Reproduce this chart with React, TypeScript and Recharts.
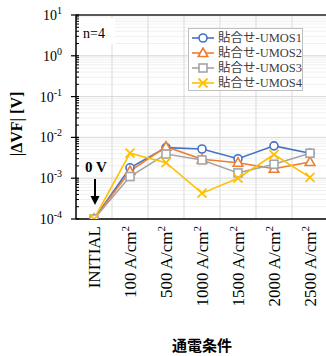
import { LineChart, Line, XAxis, YAxis, CartesianGrid, ReferenceLine, Legend, Customized } from 'recharts'

const categories = ['INITIAL', '100', '500', '1000', '1500', '2000', '2500']
const umos1 = [1e-4, 1.8e-3, 5.6e-3, 5.2e-3, 3.0e-3, 6.2e-3, 4.1e-3]
const umos2 = [1e-4, 1.5e-3, 5.9e-3, 2.9e-3, 2.4e-3, 1.7e-3, 2.5e-3]
const umos3 = [1e-4, 1.1e-3, 3.9e-3, 2.8e-3, 1.35e-3, 2.2e-3, 4.1e-3]
const umos4 = [1e-4, 4.1e-3, 2.4e-3, 4.3e-4, 1.0e-3, 3.8e-3, 1.05e-3]

const majorTicks = [1e-4, 1e-3, 1e-2, 1e-1, 1, 10]
const exponents = ['-4', '-3', '-2', '-1', '0', '1']
const minorSteps = [2, 3, 4, 5, 6, 7, 8, 9]
const minorTicks = majorTicks.slice(0, -1).flatMap(m => minorSteps.map(s => m * s))
const allTicks = [...majorTicks, ...minorTicks].sort((a, b) => a - b)

const seriesNames = ['貼合せ-UMOS1', '貼合せ-UMOS2', '貼合せ-UMOS3', '貼合せ-UMOS4']
const seriesKeys = ['u1', 'u2', 'u3', 'u4']
const seriesColors = ['#4472C4', '#ED7D31', '#A5A5A5', '#FFC000']
const seriesShapes = ['circle', 'triangle', 'square', 'cross']

const data = categories.map((c, i) => ({
  cat: c,
  u1: umos1[i],
  u2: umos2[i],
  u3: umos3[i],
  u4: umos4[i],
}))

const SERIF = '"Liberation Serif", "Times New Roman", serif'
const CJK = '"Noto Sans CJK JP", "Noto Sans", sans-serif'
const MIXED = '"Liberation Serif", "Noto Sans CJK JP", serif'

function Marker({ shape, cx, cy, color }: { shape: string; cx: number; cy: number; color: string }) {
  if (shape === 'circle') return <circle cx={cx} cy={cy} r={4} fill="#fff" stroke={color} strokeWidth={1.6} />
  if (shape === 'triangle')
    return <path d={`M${cx},${cy - 5} L${cx + 4.8},${cy + 3.5} L${cx - 4.8},${cy + 3.5} Z`} fill="#fff" stroke={color} strokeWidth={1.6} />
  if (shape === 'square') return <rect x={cx - 4} y={cy - 4} width={8} height={8} fill="#fff" stroke={color} strokeWidth={1.6} />
  return (
    <g stroke={color} strokeWidth={1.8}>
      <line x1={cx - 4.5} y1={cy - 4.5} x2={cx + 4.5} y2={cy + 4.5} />
      <line x1={cx - 4.5} y1={cy + 4.5} x2={cx + 4.5} y2={cy - 4.5} />
    </g>
  )
}

const YTick = ({ x, y, payload }: any) => {
  const idx = majorTicks.findIndex(t => Math.abs(Math.log10(t) - Math.log10(payload.value)) < 1e-6)
  if (idx < 0) return <line x1={x} x2={x + 3} y1={y} y2={y} stroke="#000" strokeWidth={1} />
  return (
    <g>
      <line x1={x - 5} x2={x + 3} y1={y} y2={y} stroke="#000" strokeWidth={1.2} />
      <text x={x - 14} y={y + 5} textAnchor="end" fontFamily={SERIF} fontSize={14} fill="#000">
        10
        <tspan dy={-6} fontSize={10}>{exponents[idx]}</tspan>
      </text>
    </g>
  )
}

const XTick = ({ x, y, payload }: any) => {
  const v = payload.value as string
  return (
    <g transform={`translate(${x},${y}) rotate(-90)`}>
      <text x={-7} y={6} textAnchor="end" fontFamily={SERIF} fontSize={17} fill="#000">
        {v === 'INITIAL' ? (
          'INITIAL'
        ) : (
          <>
            {`${v} A/cm`}
            <tspan dy={-7} fontSize={11}>2</tspan>
          </>
        )}
      </text>
    </g>
  )
}

const LegendBox = () => (
  <div
    style={{
      width: 115,
      height: 63,
      border: '1px solid #bfbfbf',
      background: '#fff',
      boxSizing: 'border-box',
      paddingTop: 1,
      paddingLeft: 2,
    }}
  >
    {seriesNames.map((n, i) => (
      <div key={n} style={{ display: 'flex', alignItems: 'center', height: 15 }}>
        <svg width={24} height={12} style={{ flex: 'none' }}>
          <line x1={1} x2={23} y1={6} y2={6} stroke={seriesColors[i]} strokeWidth={1.6} />
          <Marker shape={seriesShapes[i]} cx={12} cy={6} color={seriesColors[i]} />
        </svg>
        <span style={{ marginLeft: 3, fontSize: 12.5, fontFamily: MIXED, color: '#404040', whiteSpace: 'nowrap', lineHeight: '14px' }}>
          {n}
        </span>
      </div>
    ))}
  </div>
)

const Annotations = () => (
  <g>
    <rect x={78} y={18} width={37} height={26} fill="#fff" />
    <text x={83} y={38} fontFamily={SERIF} fontSize={14} fill="#000">n=4</text>
    <text x={85} y={172} fontFamily={SERIF} fontSize={15} fontWeight="bold" fill="#000">0 V</text>
    <line x1={95} y1={179} x2={95} y2={198} stroke="#000" strokeWidth={2} />
    <path d="M90.5,196 L99.5,196 L95,205 Z" fill="#000" />
    <text
      transform="translate(22,124) rotate(-90)"
      textAnchor="middle"
      fontFamily={SERIF}
      fontSize={16}
      fontWeight="bold"
      fill="#000"
    >
      |ΔVF| [V]
    </text>
    <text x={202} y={351} textAnchor="middle" fontFamily={CJK} fontSize={15} fontWeight="bold" fill="#000">
      通電条件
    </text>
  </g>
)

export default function App() {
  return (
    <div style={{ position: 'absolute', left: 0, top: 0, width: 326, height: 356, overflow: 'hidden', background: '#fff' }}>
      <LineChart width={340} height={356} data={data} margin={{ top: 15, right: 12, left: 0, bottom: 37 }}>
        <CartesianGrid vertical={false} stroke="#f0f0f0" strokeWidth={1} />
        <CartesianGrid
          horizontal={false}
          stroke="#d9d9d9"
          verticalCoordinatesGenerator={({ offset }: any) =>
            categories.slice(1).map((_, i) => offset.left + ((i + 1) * offset.width) / categories.length)
          }
        />
        {majorTicks.slice(1, -1).map(t => (
          <ReferenceLine key={t} y={t} stroke="#d9d9d9" strokeWidth={1} />
        ))}
        <ReferenceLine y={10} stroke="#595959" strokeWidth={2} />
        <Customized component={Annotations} />
        <XAxis
          dataKey="cat"
          height={100}
          padding={{ left: 18, right: 18 }}
          interval={0}
          axisLine={{ stroke: '#000', strokeWidth: 1.5 }}
          tickLine={false}
          tickSize={0}
          tickMargin={0}
          tick={<XTick />}
        />
        <YAxis
          width={76}
          scale="log"
          domain={[1e-4, 10]}
          allowDataOverflow
          ticks={allTicks}
          interval={0}
          axisLine={{ stroke: '#000', strokeWidth: 1.5 }}
          tickLine={false}
          tickSize={0}
          tickMargin={0}
          tick={<YTick />}
        />
        <Legend
          layout="vertical"
          align="center"
          verticalAlign="middle"
          wrapperStyle={{ left: 188, top: 28, width: 115 }}
          content={<LegendBox />}
        />
        {seriesKeys.map((k, i) => (
          <Line
            key={k}
            dataKey={k}
            name={seriesNames[i]}
            stroke={seriesColors[i]}
            strokeWidth={1.6}
            isAnimationActive={false}
            dot={(p: any) => <Marker key={`${k}-${p.index}`} shape={seriesShapes[i]} cx={p.cx} cy={p.cy} color={seriesColors[i]} />}
          />
        ))}
      </LineChart>
    </div>
  )
}
